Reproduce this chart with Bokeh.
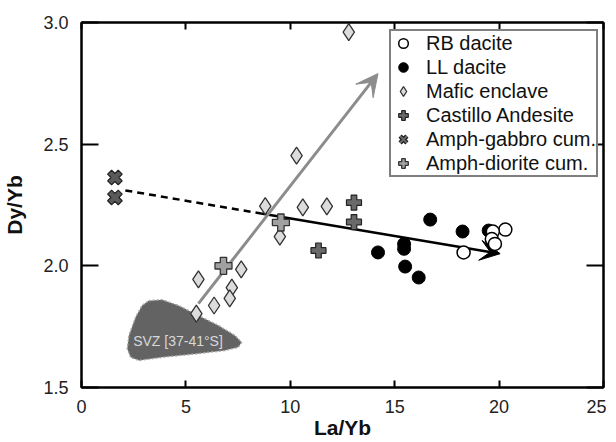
import numpy as np
from bokeh.plotting import figure
from bokeh.models import (Range1d, LinearAxis, FixedTicker, NumeralTickFormatter,
                          Legend, LegendItem, Arrow, VeeHead)
from bokeh.core.properties import value
from bokeh.embed import file_html
from bokeh.resources import INLINE

# ---------------- data ----------------
rb_x = [18.3, 20.3, 19.7, 19.65, 19.8]
rb_y = [2.055, 2.149, 2.141, 2.11, 2.09]

ll_x = [16.7, 18.25, 14.2, 15.45, 15.45, 15.5, 16.15, 19.5]
ll_y = [2.19, 2.141, 2.055, 2.09, 2.07, 1.997, 1.952, 2.145]

mafic_x = [12.8, 10.3, 8.8, 10.6, 11.75, 9.5, 5.6, 7.65, 7.2, 7.1, 6.35, 5.5]
mafic_y = [2.96, 2.453, 2.245, 2.24, 2.244, 2.12, 1.944, 1.985, 1.91, 1.866, 1.837, 1.804]

castillo_x = [13.05, 13.05, 11.35]
castillo_y = [2.26, 2.18, 2.063]

gabbro_x = [1.6, 1.6]
gabbro_y = [2.363, 2.281]

diorite_x = [9.55, 6.8]
diorite_y = [2.178, 2.0]

# SVZ field outline
svz_x = [3.22, 3.86, 4.65, 5.60, 6.56, 7.35, 7.67, 7.51, 6.87, 5.44, 3.86, 2.75,
         2.35, 2.19, 2.27, 2.59, 2.90]
svz_y = [1.857, 1.861, 1.837, 1.796, 1.755, 1.714, 1.686, 1.665, 1.652, 1.638,
         1.624, 1.611, 1.624, 1.659, 1.714, 1.789, 1.837]
svz_label = "SVZ [37-41°S]"
svz_label_pos = (4.62, 1.693)

# trends: dashed start, solid start, arrow end
trend_x = [2.1, 8.6, 20.05]
trend_y = [2.31, 2.215, 2.05]
# gray enclave trend: start, end
enc_x = [5.6, 14.2]
enc_y = [1.845, 2.79]

x_ticks = [0, 5, 10, 15, 20, 25]
y_ticks = [1.5, 2.0, 2.5, 3.0]

# ---------------- figure ----------------
p = figure(width=606, height=442, output_backend="svg", toolbar_location=None,
           x_range=Range1d(0, 25), y_range=Range1d(1.5, 3.0),
           min_border_left=79, min_border_right=3, min_border_top=22,
           min_border_bottom=55)
p.grid.visible = False
p.outline_line_color = "black"
p.outline_line_width = 2
p.background_fill_color = "white"
p.border_fill_color = "white"

FONT = "Liberation Sans"

p.xaxis.ticker = FixedTicker(ticks=x_ticks)
p.yaxis.ticker = FixedTicker(ticks=y_ticks)
p.xaxis.formatter = NumeralTickFormatter(format="0")
p.yaxis.formatter = NumeralTickFormatter(format="0.0")
for ax in (p.xaxis[0], p.yaxis[0]):
    ax.major_label_text_font = FONT
    ax.major_label_text_font_size = "18px"
    ax.major_label_text_color = "#222222"
    ax.axis_label_text_font = FONT
    ax.axis_label_text_font_size = "21px"
    ax.axis_label_text_font_style = "bold"
    ax.axis_label_text_color = "#111111"
    ax.minor_tick_line_color = None
    ax.major_tick_out = 0
    ax.axis_line_width = 2
    ax.major_tick_line_width = 2
p.xaxis.major_tick_in = 7
p.yaxis.major_tick_in = 17
p.xaxis.axis_label = "La/Yb"
p.yaxis.axis_label = "Dy/Yb"
p.xaxis.major_label_standoff = 12
p.yaxis.major_label_standoff = 13
p.xaxis.axis_label_standoff = 0
p.yaxis.axis_label_standoff = 14

top = LinearAxis(ticker=FixedTicker(ticks=x_ticks),
                 major_label_overrides={t: "" for t in x_ticks},
                 major_label_standoff=0, major_tick_in=7, major_tick_out=0,
                 minor_tick_line_color=None, axis_line_width=2, major_tick_line_width=2)
right = LinearAxis(ticker=FixedTicker(ticks=y_ticks),
                   major_label_overrides={t: "" for t in y_ticks},
                   major_label_standoff=0, major_tick_in=17, major_tick_out=0,
                   minor_tick_line_color=None, axis_line_width=2, major_tick_line_width=2)
p.add_layout(top, "above")
p.add_layout(right, "right")

# SVZ field
p.patch(svz_x, svz_y, fill_color="#636363", line_color="#a8a8a8",
        line_width=1.5, line_dash="2 2")
p.text([svz_label_pos[0]], [svz_label_pos[1]], text=[svz_label],
       text_font=value(FONT), text_font_size="14px",
       text_color="#d8d8d8", text_align="center", text_baseline="middle")

# trend lines
p.line(trend_x[:2], trend_y[:2], line_color="black", line_width=2.5, line_dash="7 5")
p.add_layout(Arrow(x_start=trend_x[1], y_start=trend_y[1], x_end=trend_x[2], y_end=trend_y[2],
                   line_color="black", line_width=2.5,
                   end=VeeHead(size=20, fill_color="black", line_color="black"),
                   level="underlay"))
p.add_layout(Arrow(x_start=enc_x[0], y_start=enc_y[0], x_end=enc_x[1], y_end=enc_y[1],
                   line_color="#8c8c8c", line_width=3,
                   end=VeeHead(size=22, fill_color="#8c8c8c", line_color="#8c8c8c"),
                   level="underlay"))

# points
r_maf = p.scatter(mafic_x, mafic_y, marker="diamond", size=17, fill_color="#dcdcdc",
                  line_color="#333333", line_width=1.3)
r_cas = p.scatter(castillo_x, castillo_y, marker="plus", size=15, fill_color="#6a6a6a",
                  line_color="#222222", line_width=1.2)
r_gab = p.scatter(gabbro_x, gabbro_y, marker="plus", size=15, angle=np.pi / 4,
                  fill_color="#5a5a5a", line_color="#222222", line_width=1.2)
r_dio = p.scatter(diorite_x, diorite_y, marker="plus", size=17, fill_color="#a0a0a0",
                  line_color="#333333", line_width=1.3)
r_ll = p.scatter(ll_x, ll_y, marker="circle", size=13, fill_color="black",
                 line_color="black")
r_rb = p.scatter(rb_x, rb_y, marker="circle", size=13, fill_color="white",
                 line_color="black", line_width=1.5)

# legend swatch for the X symbol (legend glyphs ignore marker angle);
# size 0 keeps it invisible in the plot, the legend sizes it from its box
lg_gab_o = p.scatter(gabbro_x, gabbro_y, marker="x", size=0, line_color="#222222",
                     line_width=4.5)
lg_gab_i = p.scatter(gabbro_x, gabbro_y, marker="x", size=0, line_color="#6a6a6a",
                     line_width=2)

legend = Legend(items=[
    LegendItem(label="RB dacite", renderers=[r_rb]),
    LegendItem(label="LL dacite", renderers=[r_ll]),
    LegendItem(label="Mafic enclave", renderers=[r_maf]),
    LegendItem(label="Castillo Andesite", renderers=[r_cas]),
    LegendItem(label="Amph-gabbro cum.", renderers=[lg_gab_o, lg_gab_i]),
    LegendItem(label="Amph-diorite cum.", renderers=[r_dio]),
], location=(308, 210), label_text_font=FONT, label_text_font_size="20px",
    label_text_color="#111111", glyph_width=24, glyph_height=24, label_height=20,
    label_standoff=11, spacing=0, padding=0, margin=0,
    border_line_color="black", border_line_width=2, background_fill_alpha=1)
p.add_layout(legend, "center")

open("out.html", "w").write(file_html(p, INLINE))
